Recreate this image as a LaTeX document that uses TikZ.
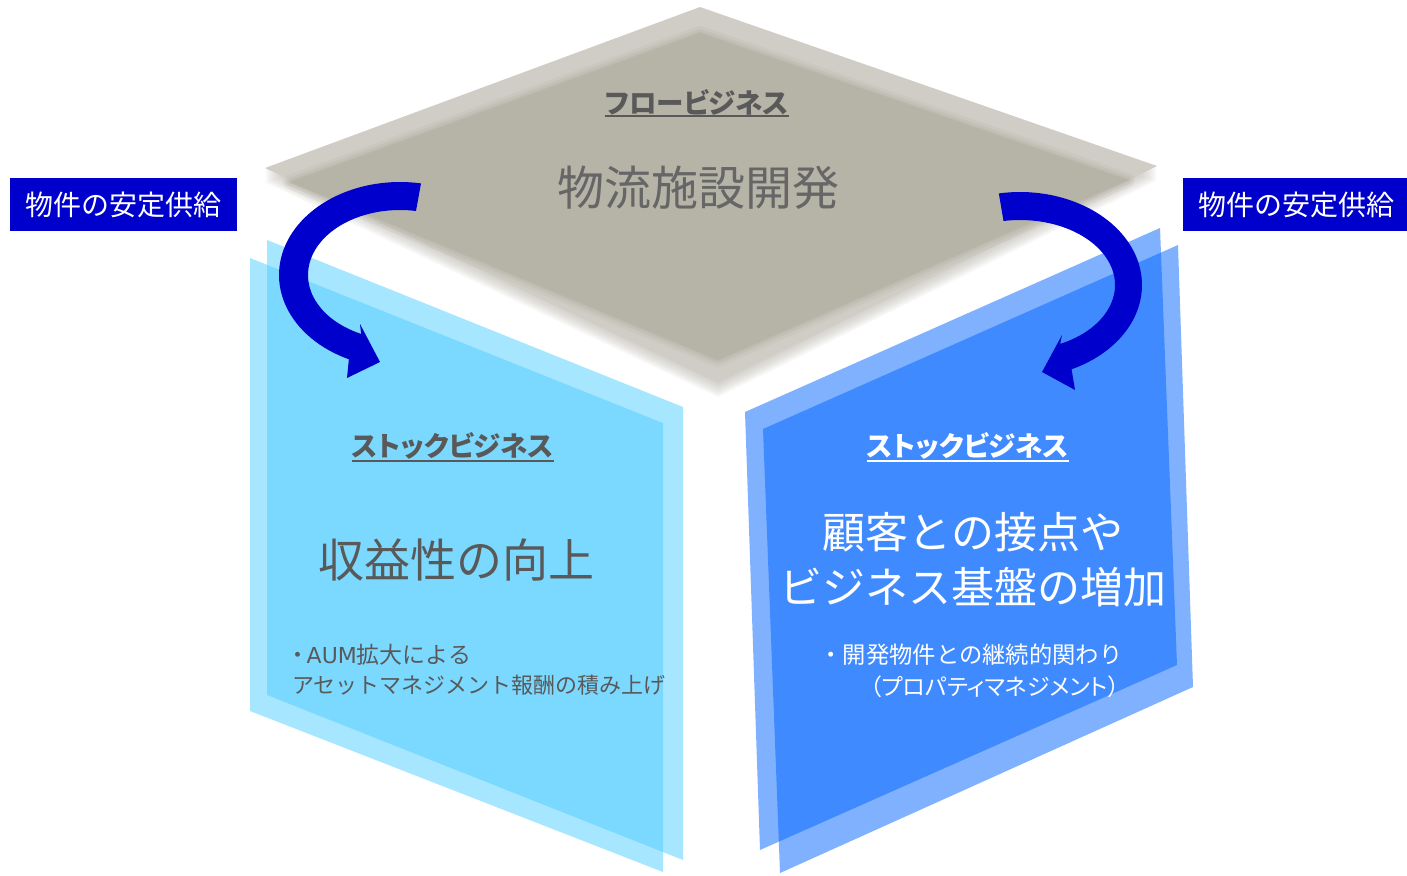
\documentclass[tikz,border=0pt]{standalone}
\usepackage{fontspec}
\newfontfamily\jp{Noto Sans CJK JP}
\newfontfamily\jpp[RawFeature=+palt]{Noto Sans CJK JP}
\newfontfamily\dvs{DejaVu Sans}
\newcommand\jsz[1]{\fontsize{#1}{#1}\selectfont}
\definecolor{arrowblue}{RGB}{0,0,204}
\definecolor{toplight}{RGB}{207,205,197}
\definecolor{topdark}{RGB}{182,179,167}
\definecolor{shadowgray}{RGB}{170,167,156}
\definecolor{txtgray}{RGB}{89,89,89}
\definecolor{txtgray2}{RGB}{102,102,102}
\definecolor{lbluepaint}{RGB}{80,205,255}
\definecolor{rbluepaint}{RGB}{0,100,255}
\begin{document}
\begin{tikzpicture}[x=1pt,y=-1pt,
  lpanel/.style={fill=lbluepaint,fill opacity=0.5},
  rpanel/.style={fill=rbluepaint,fill opacity=0.5},
  gtitle/.style={inner sep=0pt,text=txtgray,font=\jpp\bfseries\jsz{27.5}},
  wtitle/.style={inner sep=0pt,text=white,font=\jpp\bfseries\jsz{27.5}},
  supply/.style={fill=arrowblue,text=white,font=\jp\jsz{28},minimum width=227pt,minimum height=53pt,inner sep=0pt},
  bigtxt/.style={inner sep=0pt},
  ul/.style={line width=2pt},
  soft/.style={topdark,line join=round}]
\useasboundingbox (0,0) rectangle (1407,875);
% top face: soft shadow, light plate, soft dark centre
\foreach \k in {2,4,...,14}{
  \fill[shadowgray,opacity=0.09,shift={(0,\k)}] (700,7) -- (1157,166) -- (718,383) -- (265,168) -- cycle;
}
\fill[toplight] (700,7) -- (1157,166) -- (718,383) -- (265,168) -- cycle;
\draw[soft,line width=14pt,opacity=0.2] (700,33) -- (1128,180) -- (718,360) -- (290,182) -- cycle;
\draw[soft,line width=8pt,opacity=0.3] (700,33) -- (1128,180) -- (718,360) -- (290,182) -- cycle;
\draw[soft,line width=3pt,opacity=0.4] (700,33) -- (1128,180) -- (718,360) -- (290,182) -- cycle;
\fill[topdark] (700,33) -- (1128,180) -- (718,360) -- (290,182) -- cycle;
% left face
\fill[lpanel] (267,240) -- (683,407) -- (683,860) -- (267,695) -- cycle;
\fill[lpanel] (250,258) -- (663,423) -- (663,872) -- (250,711) -- cycle;
% right face
\fill[rpanel] (745,412) -- (1160,228) -- (1177,665) -- (760,850) -- cycle;
\fill[rpanel] (763,429) -- (1178,245) -- (1193,687) -- (780,873) -- cycle;
% arrows
\fill[arrowblue] plot[domain=-80:-245,samples=60,variable=\t] ({400+121*cos(\t)},{275+93*sin(\t)})
  -- (347,378) -- (380,362) -- (360,324)
  -- plot[domain=-245:-80,samples=60,variable=\t] ({400+92*cos(\t)},{275+65*sin(\t)}) -- cycle;
\fill[arrowblue] plot[domain=-100:65,samples=60,variable=\t] ({1020+122*cos(\t)},{285+93*sin(\t)})
  -- (1075,390) -- (1042,372) -- (1062,335)
  -- plot[domain=65:-100,samples=60,variable=\t] ({1020+95*cos(\t)},{285+65*sin(\t)}) -- cycle;
% supply boxes
\node[supply] (sl) at (123.5,204.5) {物件の安定供給};
\node[supply] (sr) at (1296,204.5) {物件の安定供給};
% top texts
\node[gtitle] (flow) at (697,102) {フロービジネス};
\draw[ul,txtgray] ([yshift=-1pt]flow.south west) -- ([yshift=-1pt]flow.south east);
\node[bigtxt,text=txtgray2,font=\jp\jsz{47}] (dev) at (698,188) {物流施設開発};
% left texts
\node[gtitle] (stl) at (453,446) {ストックビジネス};
\draw[ul,txtgray] ([yshift=-1pt]stl.south west) -- ([yshift=-1pt]stl.south east);
\node[bigtxt,text=txtgray,font=\jp\jsz{46}] (prof) at (456,560) {収益性の向上};
\node[bigtxt,text=txtgray,font=\jp\jsz{23},anchor=west] (aum1) at (292,655) {{\jpp ・}\hspace{3pt}{\dvs\jsz{22}AUM}拡大による};
\node[bigtxt,text=txtgray,font=\jp\jsz{22},anchor=west] (aum2) at (292,685) {アセットマネジメント報酬の積み上げ};
% right texts
\node[wtitle] (str) at (968,446) {ストックビジネス};
\draw[ul,white] ([yshift=-1pt]str.south west) -- ([yshift=-1pt]str.south east);
\node[bigtxt,text=white,font=\jp\jsz{43}] (cus1) at (973,532) {顧客との接点や};
\node[bigtxt,text=white,font=\jp\jsz{43}] (cus2) at (973,587) {ビジネス基盤の増加};
\node[bigtxt,text=white,font=\jp\jsz{23.3}] (pm1) at (971,655) {・開発物件との継続的関わり};
\node[bigtxt,text=white,font=\jpp\jsz{23}] (pm2) at (995,687) {（プロパティマネジメント）};
\end{tikzpicture}
\end{document}
